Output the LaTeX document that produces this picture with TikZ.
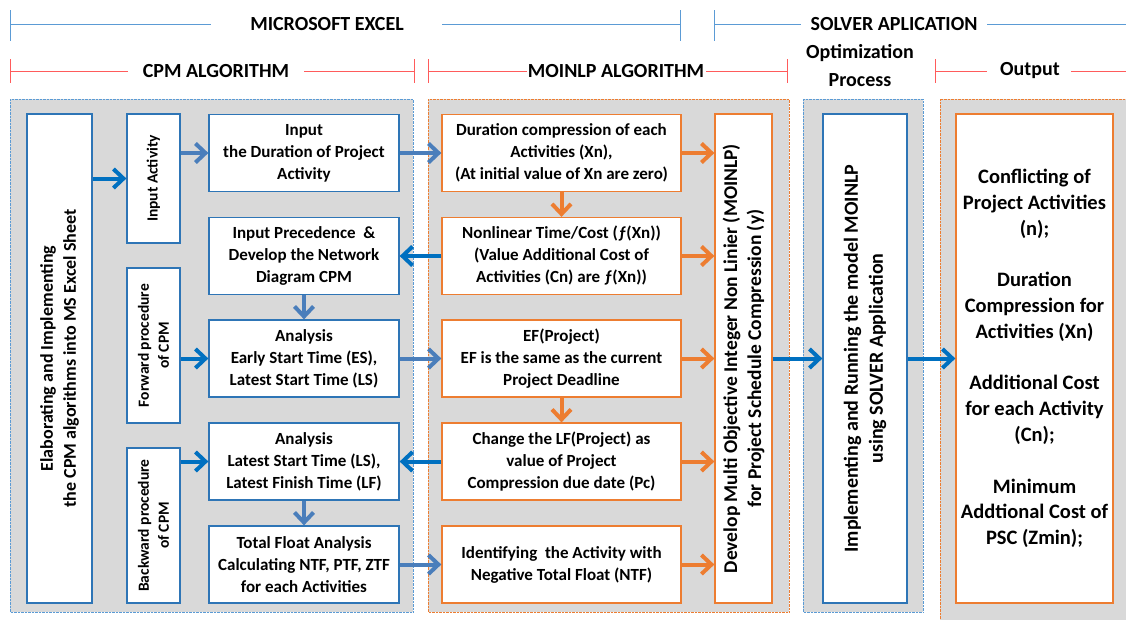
\documentclass[tikz,border=0pt]{standalone}
\usepackage{fontspec}
\setmainfont{Carlito}
\usetikzlibrary{arrows.meta,positioning}

\definecolor{panelgray}{HTML}{D9D9D9}
\definecolor{boxblue}{HTML}{2E75B6}
\definecolor{darkarrow}{HTML}{0070C0}
\definecolor{lightarrow}{HTML}{4A7EBB}
\definecolor{boxorange}{HTML}{ED7D31}
\definecolor{headblue}{HTML}{5B9BD5}
\definecolor{headred}{HTML}{FF5B5B}

\begin{document}
\begin{tikzpicture}[x=1pt,y=-1pt,
  every node/.style={align=center,font=\bfseries\fontsize{17}{22}\selectfont},
  head/.style={font=\bfseries\fontsize{20}{28}\selectfont},
  panel/.style={fill=panelgray,densely dotted,thin},
  bluebox/.style={draw=boxblue,fill=white,line width=1.3pt,inner sep=0pt},
  orangebox/.style={draw=boxorange,fill=white,line width=1.3pt,inner sep=0pt},
  rowbox/.style={minimum width=190pt,minimum height=77pt},
  side/.style={minimum width=53pt,minimum height=155pt},
  sidetext/.style={rotate=90,font=\bfseries\fontsize{15.5}{20}\selectfont},
  arr/.style={line width=4pt,-{Straight Barb[length=10pt,width=19pt,line width=4pt]}},
  lightarr/.style={arr,lightarrow},
  darkarr/.style={arr,darkarrow},
  orangearr/.style={arr,boxorange}]

\useasboundingbox (0,0) rectangle (1126,619);

  % header lines
  \draw[headblue,thick] (10,10) -- (10,41) (10,24) -- (211,24) (442,24) -- (680,24) (680,10) -- (680,41);
  \node[head] (hexcel) at (327,24) {MICROSOFT EXCEL};
  \draw[headblue,thick] (714,10) -- (714,41) (714,24) -- (801,24) (987,24) -- (1126,24);
  \node[head] (hsolver) at (894,24) {SOLVER APLICATION};

  \draw[headred,thick] (10,59) -- (10,83) (10,71) -- (128,71) (304,71) -- (414,71) (414,59) -- (414,83);
  \node[head] (hcpm) at (216,71) {CPM ALGORITHM};
  \draw[headred,thick] (428,59) -- (428,83) (428,71) -- (527,71) (706,71) -- (787,71) (787,59) -- (787,83);
  \node[head] (hmoinlp) at (616,71) {MOINLP ALGORITHM};
  \node[head] (hopt) at (860,66) {Optimization\\Process};
  \draw[headred,thick] (935,59) -- (935,83) (935,71) -- (987,71) (1071,71) -- (1126,71);
  \node[head] (hout) at (1030,71) {Output};

  % panels
  \draw[panel,draw=headblue] (10,99) rectangle (413,612);
  \draw[panel,draw=boxorange] (428,99) rectangle (789,612);
  \draw[panel,draw=headblue] (803,99) rectangle (923,612);
  \draw[panel,draw=boxorange] (940,99) rectangle (1130,625);

  % CPM algorithm
  \node[bluebox,minimum width=65pt,minimum height=489pt,
    label={[rotate=90,font=\bfseries\fontsize{18}{23}\selectfont]center:Elaborating and Implementing\\the CPM algorithms into MS Excel Sheet}]
    (elab) at (59.5,358.5) {};
  \node[bluebox,minimum width=53pt,minimum height=129pt,
    label={[sidetext]center:Input Activity}]
    (inact) at (153.5,178.5) {};
  \node[bluebox,side,label={[sidetext]center:Forward procedure\\of CPM}]
    (fwd) at (153.5,345.5) {};
  \node[bluebox,side,label={[sidetext]center:Backward procedure\\of CPM}]
    (bwd) at (153.5,525.5) {};

  \node[bluebox,rowbox] (dur) at (304,153) {Input\\the Duration of Project\\Activity};
  \node[bluebox,rowbox] (prec) at (304,256) {Input Precedence \ \&\\Develop the Network\\Diagram CPM};
  \node[bluebox,rowbox] (es) at (304,358.5) {Analysis\\Early Start Time (ES),\\Latest Start Time (LS)};
  \node[bluebox,rowbox] (ls) at (304,461.5) {Analysis\\Latest Start Time (LS),\\Latest Finish Time (LF)};
  \node[bluebox,rowbox] (tf) at (304,564.5) {Total Float Analysis\\Calculating NTF, PTF, ZTF\\for each Activities};

  % MOINLP algorithm
  \node[orangebox,rowbox,minimum width=239pt] (dc) at (561.5,153) {Duration compression of each\\Activities (Xn),\\(At initial value of Xn are zero)};
  \node[orangebox,rowbox,minimum width=239pt] (nl) at (561.5,256) {Nonlinear Time/Cost (ƒ(Xn))\\(Value Additional Cost of\\Activities (Cn) are ƒ(Xn))};
  \node[orangebox,rowbox,minimum width=239pt] (ef) at (561.5,358.5) {EF(Project)\\EF is the same as the current\\Project Deadline};
  \node[orangebox,rowbox,minimum width=239pt] (chg) at (561.5,461.5) {Change the LF(Project) as\\value of Project\\Compression due date (Pc)};
  \node[orangebox,rowbox,minimum width=239pt] (ntf) at (561.5,564.5) {Identifying \ the Activity with\\Negative Total Float (NTF)};
  \node[orangebox,minimum width=57pt,minimum height=489pt,
    label={[rotate=90,font=\bfseries\fontsize{19.5}{24}\selectfont]center:Develop Multi Objective Integer Non Linier (MOINLP)\\for Project Schedule Compression (y)}]
    (moinlp) at (743.5,358.5) {};

  % solver and output
  \node[bluebox,minimum width=84pt,minimum height=489pt,
    label={[rotate=90,font=\bfseries\fontsize{20}{25}\selectfont]center:Implementing and Running the model MOINLP\\using SOLVER Application}]
    (solver) at (865,358.5) {};
  \node[orangebox,minimum width=157pt,minimum height=489pt,font=\bfseries\fontsize{20.5}{25.8}\selectfont]
    (out) at (1034.5,358.5) {Conflicting of\\Project Activities\\(n);\\[25.8pt]Duration\\Compression for\\Activities (Xn)\\[25.8pt]Additional Cost\\for each Activity\\(Cn);\\[25.8pt]Minimum\\Addtional Cost of\\PSC (Zmin);};

  % arrows
  \draw[darkarr] (elab.east |- inact) -- (inact.west);
  \draw[lightarr] (inact.east |- dur) -- (dur.west);
  \draw[darkarr] (fwd.east |- es) -- (es.west);
  \draw[darkarr] (bwd.east |- ls) -- (ls.west);
  \draw[lightarr] (prec) -- (es);
  \draw[lightarr] (ls) -- (tf);

  \draw[lightarr] (dur) -- (dc);
  \draw[darkarr] (nl) -- (prec);
  \draw[lightarr] (es) -- (ef);
  \draw[darkarr] (chg) -- (ls);
  \draw[lightarr] (tf) -- (ntf);

  \draw[orangearr] (dc) -- (nl);
  \draw[orangearr] (ef) -- (chg);
  \foreach \n in {dc,nl,ef,chg,ntf}
    \draw[orangearr] (\n.east) -- (moinlp.west |- \n);

  \draw[darkarr] (moinlp) -- (solver);
  \draw[darkarr] (solver) -- (out);

\end{tikzpicture}
\end{document}
